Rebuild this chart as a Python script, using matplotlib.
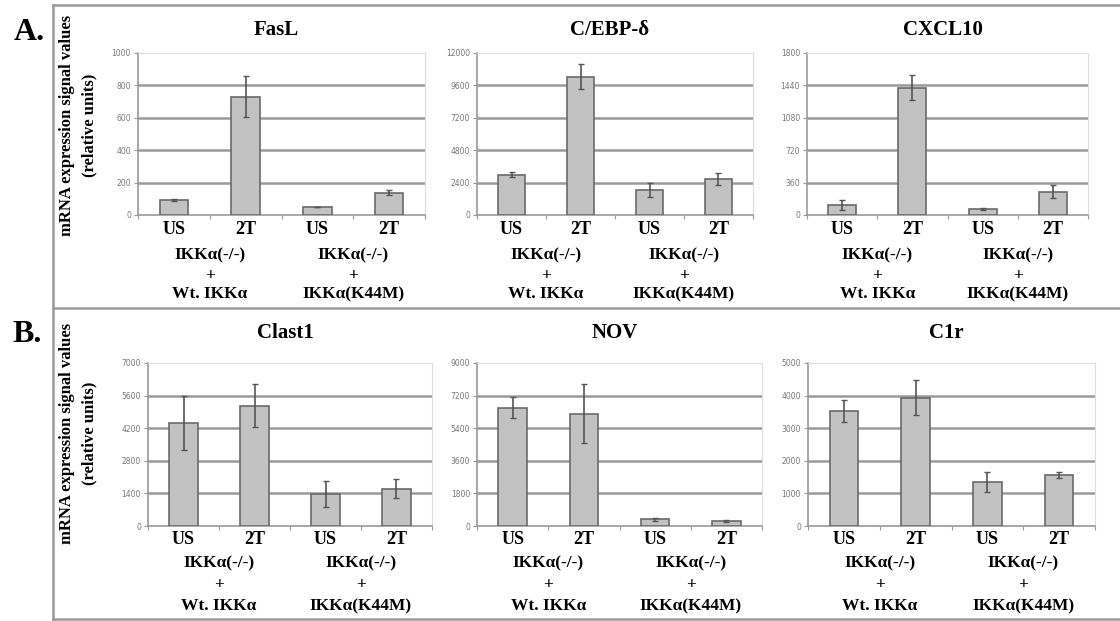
import matplotlib
matplotlib.use("Agg")
import matplotlib.pyplot as plt
from matplotlib.lines import Line2D

W, H = 1120, 621

conds = ["US", "2T", "US", "2T"]
groups = ["IKK\u03b1(-/-)\n+\nWt. IKK\u03b1", "IKK\u03b1(-/-)\n+\nIKK\u03b1(K44M)"]

# panel A
fasl = [92, 730, 51, 138]
fasl_err = [5, 125, 0, 15]
cebp = [3000, 10250, 1850, 2640]
cebp_err = [220, 900, 550, 450]
cxcl10 = [111, 1416, 67, 259]
cxcl10_err = [55, 135, 10, 75]
# panel B
clast1 = [4430, 5170, 1370, 1610]
clast1_err = [1150, 935, 550, 420]
nov = [6540, 6210, 367, 294]
nov_err = [600, 1630, 100, 60]
c1r = [3530, 3930, 1350, 1570]
c1r_err = [345, 540, 300, 100]

titles_a = ["FasL", "C/EBP-\u03b4", "CXCL10"]
titles_b = ["Clast1", "NOV", "C1r"]
ymax_a = [1000, 12000, 1800]
ymax_b = [7000, 9000, 5000]

serif = ["Liberation Serif", "DejaVu Serif"]
plt.rcParams['font.family'] = serif

fig = plt.figure(figsize=(W / 100, H / 100), dpi=100)


def px(x0, x1, y0, y1):
    return [x0 / W, 1 - y1 / H, (x1 - x0) / W, (y1 - y0) / H]


def draw(box, vals, errs, title, ymax, offs, title_dy):
    ax = fig.add_axes(box)
    x = range(len(vals))
    ax.bar(x, vals, width=0.4, color="#c2c2c2", edgecolor="#6a6a6a", linewidth=1.2, zorder=3)
    ax.errorbar(x, vals, yerr=errs, fmt="none", ecolor="#555555", elinewidth=1.2,
                capsize=2, capthick=1, zorder=4)
    ax.set_xlim(-0.5, 3.5)
    ax.set_ylim(0, ymax)
    ticks = [ymax * i / 5 for i in range(6)]
    ax.set_yticks(ticks)
    ax.set_yticklabels(["%d" % t for t in ticks], fontsize=5.5, color="#777777",
                       family=["DejaVu Sans"])
    for t in ticks[1:-1]:
        ax.axhline(t, color="#9a9a9a", linewidth=1.8, zorder=1)
    ax.axhline(ymax, color="#d8d8d8", linewidth=1.2, zorder=1)
    ax.set_xticks([-0.5, 0.5, 1.5, 2.5, 3.5])
    ax.set_xticklabels([])
    ax.tick_params(axis="x", length=3, color="#999999", direction="out")
    ax.tick_params(axis="y", length=3, color="#999999", pad=2)
    for s in ["top", "right"]:
        ax.spines[s].set_color("#dddddd")
    ax.spines["left"].set_color("#999999")
    ax.spines["bottom"].set_color("#999999")
    ax.spines["left"].set_linewidth(1.2)
    ax.spines["bottom"].set_linewidth(1.2)
    ax.annotate(title, xy=(0.5, 1), xycoords="axes fraction",
                xytext=(-5, title_dy), textcoords="offset pixels",
                ha="center", va="center", fontsize=15, fontweight="bold")
    for i, c in enumerate(conds):
        ax.annotate(c, xy=(i, 0), xycoords=("data", "axes fraction"),
                    xytext=(0, -offs[0]), textcoords="offset pixels",
                    ha="center", va="center", fontsize=13, fontweight="bold")
    for j, g in enumerate(groups):
        for k, line in enumerate(g.split("\n")):
            ax.annotate(line, xy=(0.5 + 2 * j, 0), xycoords=("data", "axes fraction"),
                        xytext=(0, -offs[k + 1]), textcoords="offset pixels",
                        ha="center", va="center", fontsize=12.5, fontweight="bold")
    return ax


data_a = [(fasl, fasl_err), (cebp, cebp_err), (cxcl10, cxcl10_err)]
data_b = [(clast1, clast1_err), (nov, nov_err), (c1r, c1r_err)]

boxes_a = [px(138, 425, 53, 215), px(477, 753, 53, 215), px(807, 1088, 53, 215)]
boxes_b = [px(148, 432, 363, 526), px(477, 762, 363, 526), px(808, 1095, 363, 526)]

for b, (v, e), t, m in zip(boxes_a, data_a, titles_a, ymax_a):
    draw(b, v, e, t, m, [15, 40, 61, 79], 23)
for b, (v, e), t, m in zip(boxes_b, data_b, titles_b, ymax_b):
    draw(b, v, e, t, m, [14, 37, 59, 80], 30)

# panel letters and y labels
fig.text(29 / W, 1 - 33 / H, "A.", fontsize=23, fontweight="bold", ha="center", va="center")
fig.text(27 / W, 1 - 335 / H, "B.", fontsize=23, fontweight="bold", ha="center", va="center")
for yc in [125, 433]:
    fig.text(67 / W, 1 - yc / H, "mRNA expression signal values", rotation=90,
             fontsize=12, fontweight="bold", ha="center", va="center")
    fig.text(89 / W, 1 - yc / H, "(relative units)", rotation=90,
             fontsize=12, fontweight="bold", ha="center", va="center")

# frame lines
frame = [((53, 1120), (5, 5)), ((53, 1120), (308, 308)), ((53, 1120), (619, 619)),
         ((53, 53), (5, 619))]
for xs, ys in frame:
    fig.add_artist(Line2D([x / W for x in xs], [1 - y / H for y in ys],
                          color="#9a9a9a", linewidth=1.8))

fig.savefig("out.png", dpi=100)
